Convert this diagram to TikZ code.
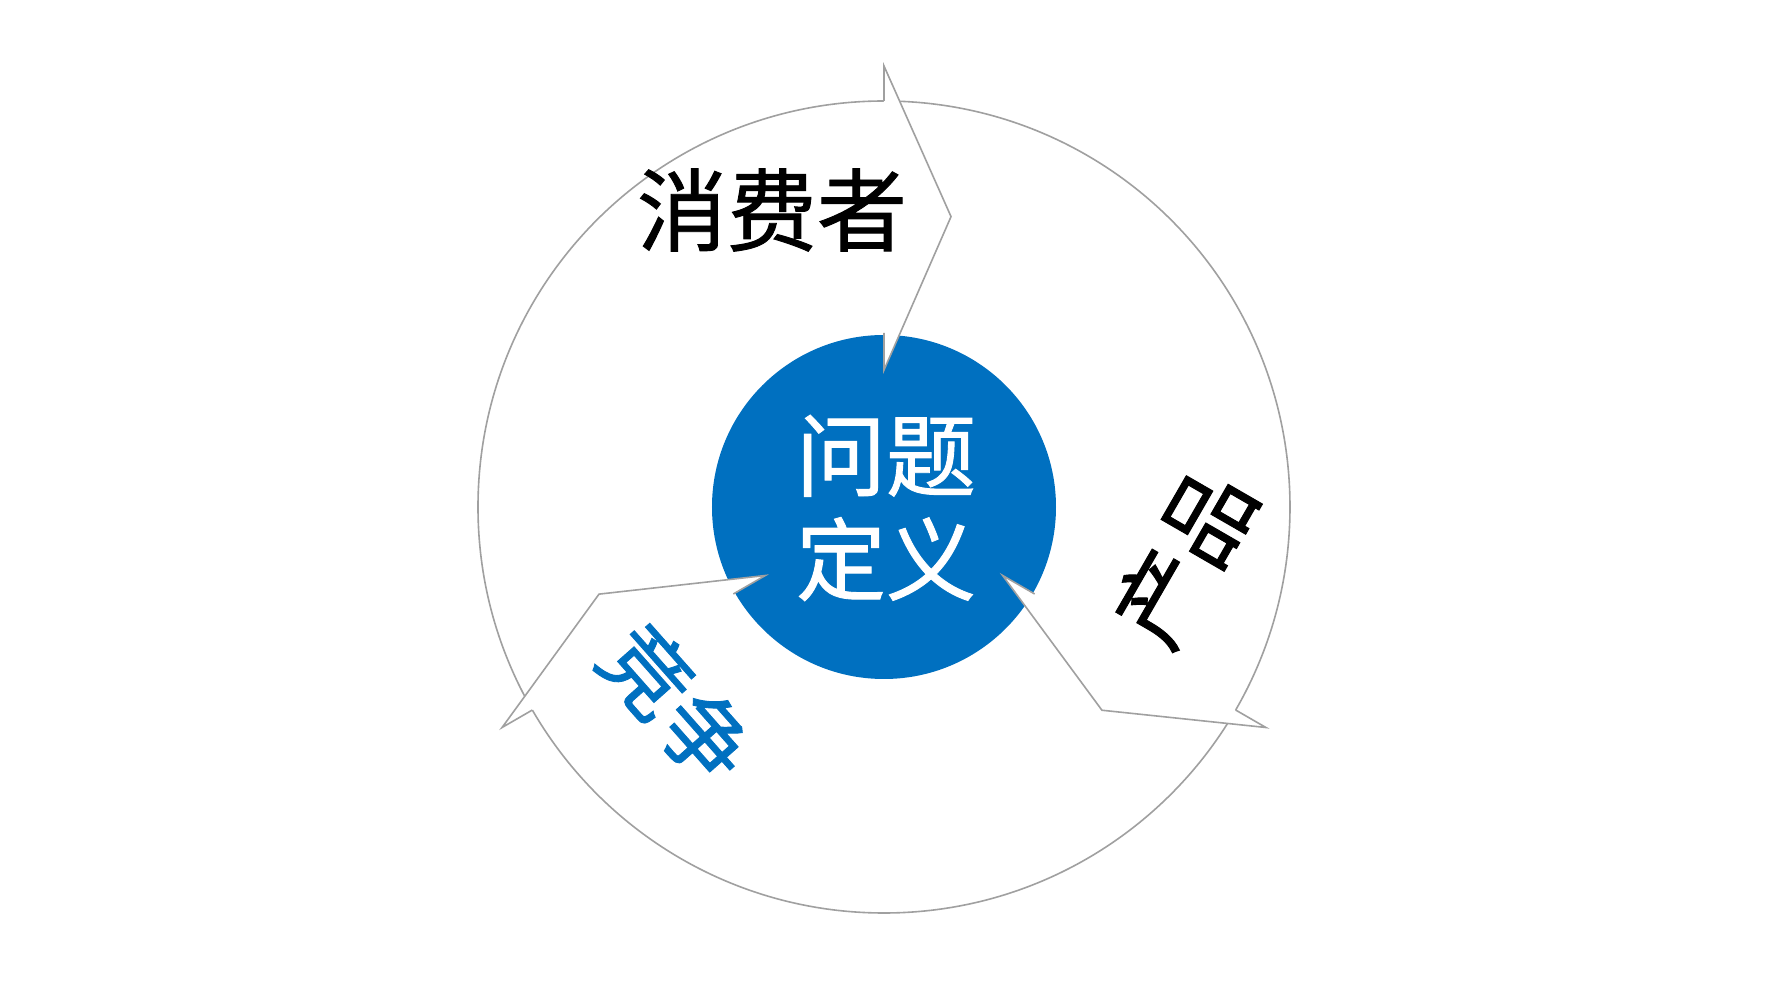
\documentclass[tikz,border=0pt]{standalone}
\usepackage{fontspec}
\newfontfamily\cjk[FakeBold=1]{Noto Sans CJK SC}
\definecolor{cblue}{HTML}{0070C0}
\definecolor{cgray}{HTML}{A0A0A0}
\begin{document}
\begin{tikzpicture}[x=0.5pt,y=0.5pt,
  ringline/.style={draw=cgray,line width=0.8pt},
  headfill/.style={fill=white},
  headline/.style={draw=cgray,line width=0.8pt,line join=miter},
  lbl/.style={inner sep=0pt,font=\cjk\fontsize{45}{52}\selectfont}]
\useasboundingbox[fill=white] (-884,-493) rectangle (894,507);
% outer ring
\draw[ringline] (0,0) circle (406);
% centre circle
\node[circle,fill=cblue,minimum size=344*0.5pt,inner sep=0pt] (core) at (0,0) {};
% arrow heads
\foreach \t/\n in {90/a,-30/b,210/c}{
  \coordinate (W\n) at (\t:441);
  \coordinate (P\n) at ({\t-13}:298);
  \coordinate (I\n) at (\t:137);
  \coordinate (A\n) at (\t:406);
  \coordinate (B\n) at (\t:174);
  \fill[headfill] (W\n) -- (P\n) -- (I\n) -- cycle;
  \draw[headline] (A\n) -- (W\n) -- (P\n) -- (I\n) -- (B\n);
}
% labels
\node[lbl,text=white,align=center] (core-text) at (2,-1) {问题\\定义};
\node[lbl] (consumer) at (-112,297) {消费者};
\node[lbl,font=\cjk\fontsize{46}{52}\selectfont,rotate=60] (product) at (300,-50) {产品};
\node[lbl,font=\cjk\fontsize{44}{52}\selectfont,text=cblue,rotate=-48.5] (compete) at (-207,-197) {竞争};
\end{tikzpicture}
\end{document}
